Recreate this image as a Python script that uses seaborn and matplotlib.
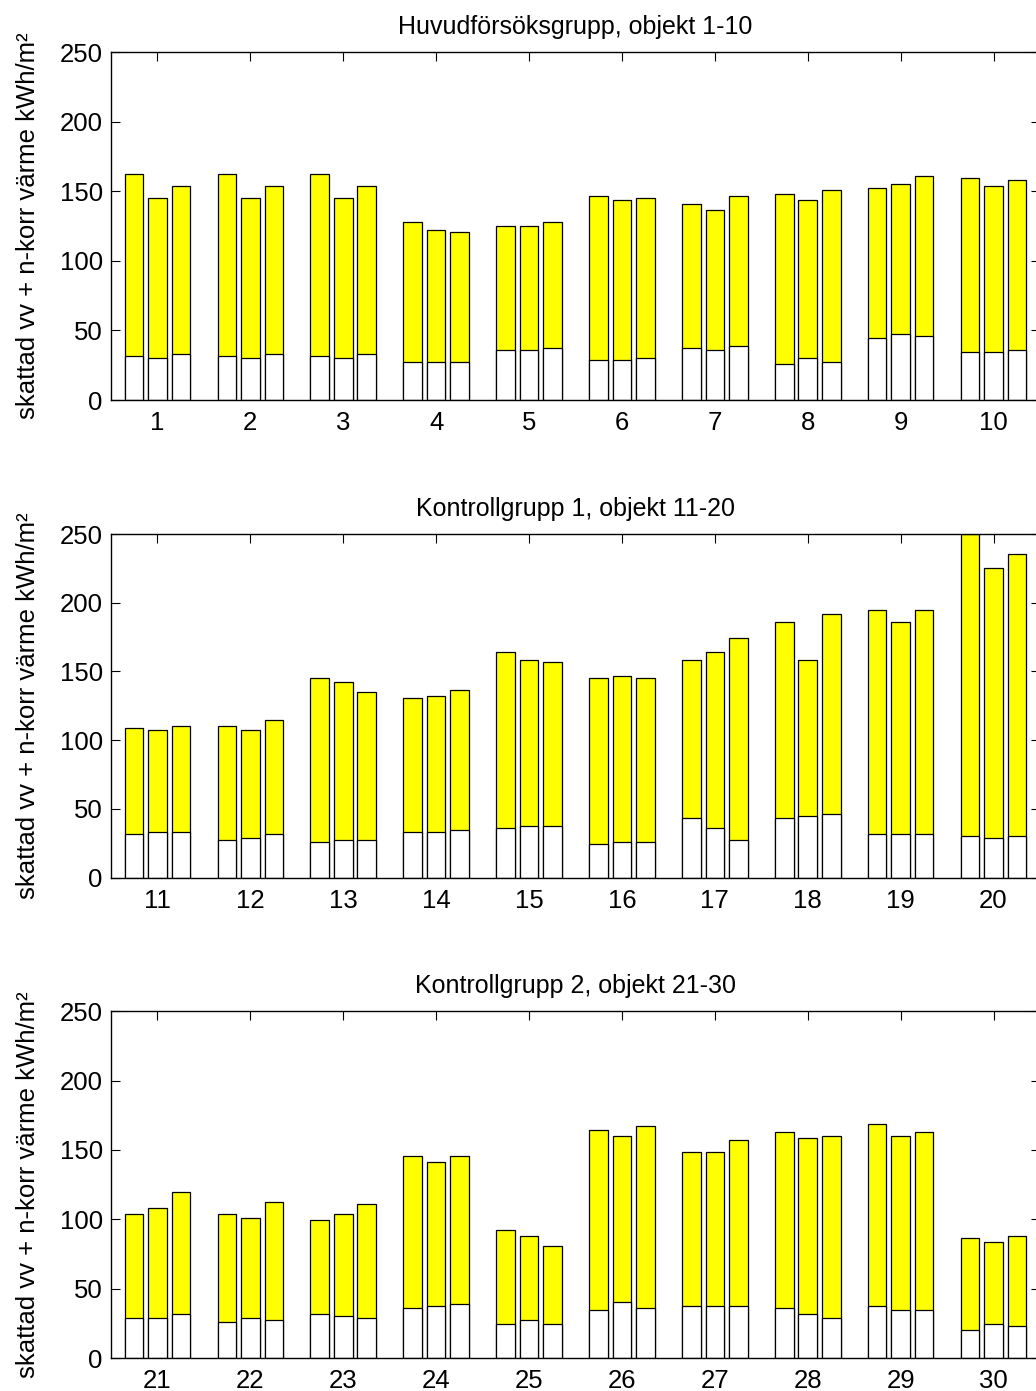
import numpy as np
import pandas as pd
import seaborn as sns
import matplotlib
matplotlib.use("Agg")
import matplotlib.pyplot as plt

# data: three bars per object, total and the white base part
titles = ["Huvudförsöksgrupp, objekt 1-10",
          "Kontrollgrupp 1, objekt 11-20",
          "Kontrollgrupp 2, objekt 21-30"]

objekt = list(range(1, 31))

total_a = [162.5, 162.5, 162.5, 128.2, 125.1, 146.7, 140.9, 148.4, 152.4, 159.6,
           108.9, 110.3, 145.2, 130.7, 164.2, 145.2, 158.3, 186.0, 194.5, 250.0,
           103.8, 103.8, 99.5, 145.7, 92.3, 164.4, 148.6, 163.0, 168.8, 86.5]
total_b = [145.3, 145.3, 145.3, 122.5, 125.1, 143.8, 136.6, 143.8, 155.3, 153.9,
           107.4, 107.4, 142.3, 132.2, 158.3, 146.7, 164.2, 158.3, 186.0, 225.3,
           108.2, 101.0, 103.8, 141.3, 88.0, 160.1, 148.6, 158.7, 160.1, 83.7]
total_c = [153.9, 153.9, 153.9, 120.8, 128.2, 145.3, 146.7, 151.0, 161.1, 158.2,
           110.3, 114.7, 135.1, 136.5, 156.9, 145.2, 174.1, 191.8, 194.5, 235.2,
           119.5, 112.5, 111.1, 145.7, 80.8, 167.3, 157.2, 160.1, 163.0, 88.0]

vv_a = [31.6, 31.6, 31.6, 27.3, 36.0, 28.8, 37.4, 25.9, 44.6, 34.5,
        31.8, 27.4, 25.9, 33.2, 36.1, 24.5, 43.4, 43.4, 31.8, 30.3,
        28.8, 26.0, 31.7, 36.1, 24.5, 34.6, 37.5, 36.1, 37.5, 20.2]
vv_b = [30.2, 30.2, 30.2, 27.3, 36.0, 28.8, 36.0, 30.2, 47.5, 34.5,
        33.2, 28.9, 27.4, 33.2, 37.6, 25.9, 36.1, 44.9, 31.8, 28.9,
        28.8, 28.8, 30.3, 37.5, 27.4, 40.4, 37.5, 31.7, 34.6, 24.5]
vv_c = [33.1, 33.1, 33.1, 27.3, 37.4, 30.2, 38.8, 27.3, 46.0, 36.0,
        33.2, 31.8, 27.4, 34.7, 37.6, 25.9, 27.4, 46.3, 31.8, 30.3,
        31.7, 27.4, 28.8, 38.9, 24.5, 36.1, 37.5, 28.8, 34.6, 23.1]

serier = ["a", "b", "c"]

df = pd.DataFrame({
    "objekt": objekt * 3,
    "serie": [s for s in serier for _ in objekt],
    "total": total_a + total_b + total_c,
    "vv": vv_a + vv_b + vv_c,
})

sns.set_style("ticks")
plt.rcParams["font.family"] = ["Liberation Sans", "DejaVu Sans"]
plt.rcParams["axes.linewidth"] = 1.0
for k in ["text.color", "axes.labelcolor", "xtick.color", "ytick.color", "axes.edgecolor"]:
    plt.rcParams[k] = "black"

fig = plt.figure(figsize=(10.36, 13.91), dpi=100)

# axes positions in pixels (top, bottom) measured on the reference
W, H = 1036, 1391
rows = [(52.3, 400.0), (534.0, 877.7), (1011.3, 1358.0)]
left_px, width_px = 111, 929

for i, (top, bot) in enumerate(rows):
    ax = fig.add_axes([left_px / W, (H - bot) / H, width_px / W, (bot - top) / H])
    d = df[(df.objekt > i * 10) & (df.objekt <= i * 10 + 10)]
    sns.barplot(data=d, x="objekt", y="total", hue="serie", hue_order=serier,
                palette=["#ffff00"] * 3, saturation=1, errorbar=None,
                width=0.76, gap=0.21, edgecolor="black", linewidth=0.9,
                legend=False, ax=ax)
    sns.barplot(data=d, x="objekt", y="vv", hue="serie", hue_order=serier,
                palette=["white"] * 3, saturation=1, errorbar=None,
                width=0.76, gap=0.21, edgecolor="black", linewidth=0.9,
                legend=False, ax=ax)
    ax.set_xlim(-0.5, 9.5)
    ax.set_ylim(0, 250)
    ax.set_yticks(range(0, 251, 50))
    ax.set_xlabel("")
    ax.set_ylabel("skattad vv + n-korr värme kWh/m²", fontsize=18.5)
    ax.yaxis.set_label_coords(-0.076, 0.5)
    ax.set_title(titles[i], fontsize=18, pad=13)
    ax.tick_params(direction="in", length=6.5, width=0.8, labelsize=18.5,
                   top=True, right=True)
    ax.tick_params(axis="x", pad=8)
    ax.tick_params(axis="y", pad=6)

fig.savefig("out.png", dpi=100)
